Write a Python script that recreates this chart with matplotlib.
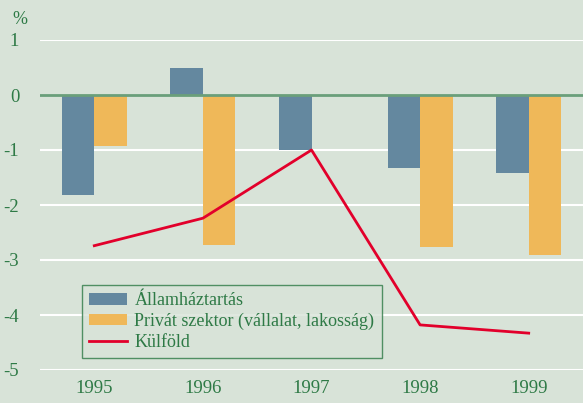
import numpy as np
import matplotlib.pyplot as plt

years = ['1995', '1996', '1997', '1998', '1999']
allam = [-1.82, 0.5, -1.0, -1.32, -1.42]
privat = [-0.93, -2.72, 0.0, -2.77, -2.9]
kulfold = [-2.74, -2.24, -1.0, -4.18, -4.33]
yticks = [1, 0, -1, -2, -3, -4, -5]

bg = '#d8e3d8'
green = '#2e7a46'
plt.rcParams['font.family'] = ['Liberation Serif', 'DejaVu Serif']

fig = plt.figure(figsize=(5.83, 4.03), dpi=100, facecolor=bg)
ax = fig.add_axes([40/583, 33/403, 543/583, 330/403], facecolor=bg)

x = np.arange(len(years))
w = 0.3
for y in yticks:
    if y != 0:
        ax.axhline(y, color='white', lw=1.5, zorder=0)
b1 = ax.bar(x - w/2, allam, w, color='#64889f', zorder=2)
b2 = ax.bar(x + w/2, privat, w, color='#efb859', zorder=2)
ax.axhline(0, color='#6a9f7a', lw=2, zorder=3)
l1, = ax.plot(x, kulfold, color='#e2002b', lw=2, zorder=4)

ax.set_xlim(-0.5, 4.5)
ax.set_ylim(-5, 1)
ax.set_xticks(x)
ax.set_xticklabels(years)
ax.set_yticks(yticks)
ax.set_yticklabels([str(v) for v in yticks])
ax.tick_params(length=0, labelsize=13.5, colors=green, pad=7)
ax.tick_params(axis='y', pad=15)
for s in ax.spines.values():
    s.set_visible(False)
fig.text(20/583, 1 - 20/403, '%', color=green, fontsize=13, ha='center', va='center')

leg = ax.legend([b1, b2, l1],
                ['Államháztartás', 'Privát szektor (vállalat, lakosság)', 'Külföld'],
                loc='upper left', bbox_to_anchor=(42/543, (370-285)/330), fontsize=13,
                frameon=True, fancybox=False, facecolor=bg, edgecolor=green,
                handlelength=2.1, handleheight=0.6, borderpad=0.4, labelspacing=0.2,
                handletextpad=0.4, borderaxespad=0)
leg.get_frame().set_linewidth(1)
for t in leg.get_texts():
    t.set_color(green)

fig.savefig('out.png', dpi=100, facecolor=bg)
